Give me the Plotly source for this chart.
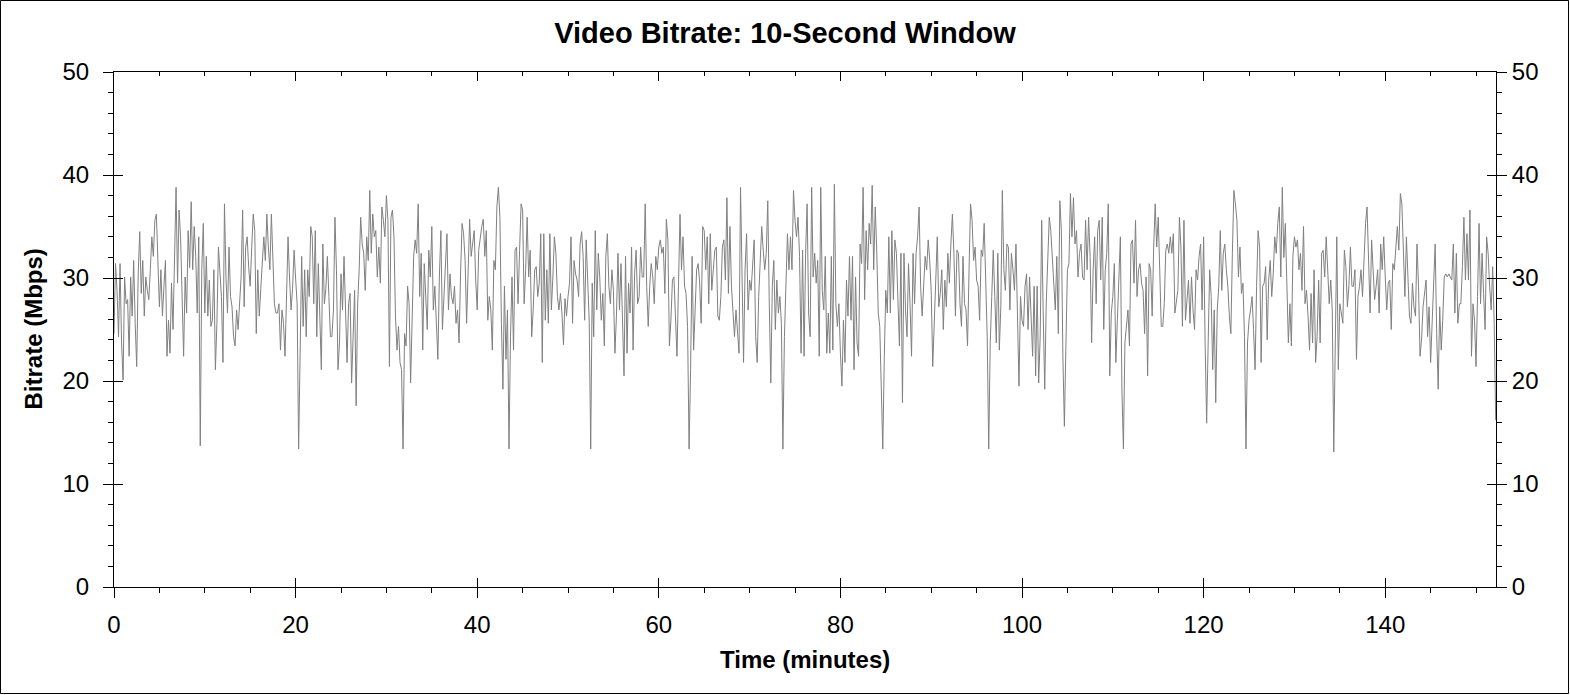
import plotly.graph_objects as go

# 10-second window bitrate (Mbps), one reading every 10 s
sample_step = 10 / 60  # minutes
bitrate = [
    24.6, 31.4, 28.8, 24.3, 31.4, 23.7,  20.1, 30.1, 27.5, 27.9, 22.4, 30.1,
    26.3, 31.7, 25.6, 21.4, 30.4, 34.5,  28.5, 31.7, 26.3, 30.1, 28.8, 27.9,
    30.8, 34.0, 32.1, 35.6, 36.2, 32.1,  27.2, 30.8, 26.3, 29.2, 31.7, 22.4,
    25.9, 22.7, 29.5, 25.0, 34.0, 38.8,  29.5, 36.6, 34.0, 26.9, 22.4, 30.1,
    26.6, 34.6, 31.0, 37.4, 30.8, 35.0,  32.1, 26.6, 34.0, 13.7, 30.8, 35.3,
    26.6, 32.1, 26.3, 29.8, 25.3, 25.9,  30.8, 21.1, 25.6, 33.0, 30.0, 28.2,
    21.8, 37.2, 30.0, 26.6, 33.0, 28.2,  27.2, 24.3, 23.4, 26.9, 25.0, 28.0,
    30.1, 36.6, 27.2, 33.0, 34.0, 31.0,  29.2, 33.0, 36.2, 34.6, 24.6, 30.8,
    26.3, 29.0, 31.5, 34.0, 31.7, 36.2,  33.0, 30.8, 36.2, 32.0, 27.5, 26.6,
    26.6, 27.5, 23.0, 26.9, 25.6, 22.4,  28.0, 34.0, 30.0, 26.9, 29.0, 32.7,
    30.0, 27.5, 13.4, 21.1, 32.1, 25.3,  30.8, 24.3, 30.8, 28.2, 35.0, 34.0,
    27.5, 34.6, 24.3, 31.4, 25.0, 21.1,  33.3, 27.5, 29.0, 32.1, 28.2, 24.3,
    24.3, 26.9, 35.9, 30.8, 21.1, 23.7,  30.4, 26.9, 32.1, 25.9, 21.8, 27.5,
    28.5, 19.8, 25.0, 28.8, 17.6, 27.5,  30.8, 35.9, 33.3, 32.4, 28.8, 34.0,
    31.7, 38.5, 32.4, 36.2, 34.0, 34.6,  30.1, 33.0, 29.5, 36.9, 35.6, 34.0,
    38.0, 35.6, 21.4, 35.9, 36.6, 34.0,  26.3, 23.0, 25.3, 21.8, 21.1, 13.4,
    24.6, 23.4, 29.2, 27.5, 19.8, 26.6,  32.1, 33.7, 32.4, 37.2, 28.2, 32.4,
    23.0, 31.4, 27.9, 25.0, 32.7, 30.1,  35.0, 26.9, 29.2, 25.3, 22.1, 30.1,
    34.6, 25.0, 27.9, 32.1, 34.3, 26.9,  30.4, 28.2, 27.5, 29.2, 25.6, 26.9,
    23.7, 30.4, 35.3, 34.3, 31.7, 25.6,  30.1, 35.7, 32.1, 33.3, 34.6, 29.8,
    26.9, 32.7, 34.0, 35.0, 35.7, 32.1,  34.6, 25.9, 28.2, 26.9, 23.0, 31.7,
    30.8, 36.9, 38.8, 35.9, 25.6, 19.2,  29.2, 22.1, 26.9, 13.4, 24.3, 30.1,
    23.0, 32.7, 33.0, 27.5, 32.7, 37.2,  36.6, 27.5, 30.8, 35.9, 30.1, 32.7,
    24.3, 26.9, 30.8, 31.1, 28.2, 29.5,  34.3, 21.8, 34.3, 25.9, 30.8, 25.6,
    34.3, 26.9, 30.1, 34.0, 32.4, 28.2,  26.9, 28.5, 26.6, 23.5, 28.0, 26.3,
    28.2, 29.5, 34.0, 25.6, 31.7, 30.4,  29.8, 28.2, 33.3, 34.5, 32.1, 25.9,
    33.7, 29.2, 25.9, 13.4, 29.5, 24.3,  34.6, 26.9, 32.4, 30.0, 25.9, 28.5,
    23.4, 32.1, 34.3, 29.2, 27.5, 30.8,  28.8, 22.7, 26.3, 32.4, 26.9, 31.4,
    25.0, 20.5, 32.1, 22.7, 29.5, 26.6,  33.0, 23.0, 30.4, 32.7, 27.5, 28.2,
    33.0, 30.1, 30.1, 37.2, 29.2, 25.3,  29.2, 31.4, 30.1, 27.5, 32.1, 30.8,
    33.0, 33.7, 32.4, 33.0, 28.5, 35.7,  33.7, 23.4, 25.9, 29.8, 30.1, 25.9,
    22.4, 29.2, 36.2, 30.8, 34.0, 29.2,  28.5, 25.3, 13.4, 21.1, 32.1, 23.0,
    27.5, 30.8, 31.4, 29.5, 25.6, 35.0,  34.6, 30.8, 34.0, 27.5, 34.3, 28.8,
    30.8, 32.7, 33.0, 26.3, 25.9, 28.2,  33.0, 33.7, 29.8, 37.8, 28.5, 35.0,
    29.2, 26.6, 24.3, 26.9, 24.3, 22.7,  38.8, 30.1, 21.8, 30.8, 34.3, 26.9,
    29.8, 28.8, 31.7, 33.7, 24.3, 21.8,  28.2, 31.7, 35.0, 32.7, 30.8, 32.4,
    37.5, 27.5, 19.8, 29.2, 31.7, 25.0,  29.8, 26.6, 28.2, 25.6, 13.4, 24.3,
    30.1, 34.3, 30.8, 34.0, 30.8, 38.5,  35.6, 34.0, 35.9, 32.1, 22.7, 32.7,
    22.4, 32.4, 37.2, 26.6, 24.3, 38.8,  30.1, 32.4, 29.5, 31.7, 22.4, 38.8,
    28.8, 26.9, 32.1, 22.7, 26.6, 22.7,  32.1, 23.0, 39.1, 27.5, 25.3, 27.5,
    22.7, 19.5, 25.9, 21.8, 29.8, 26.3,  32.1, 25.9, 32.1, 21.1, 30.1, 23.7,
    22.4, 33.3, 31.4, 38.8, 27.9, 34.6,  30.8, 35.3, 33.3, 39.0, 30.8, 36.9,
    32.7, 26.6, 25.3, 17.9, 13.4, 22.4,  28.8, 26.6, 34.0, 26.6, 34.6, 27.9,
    33.7, 32.4, 26.6, 23.4, 32.4, 17.9,  32.4, 26.9, 24.3, 31.4, 27.5, 22.4,
    32.4, 27.5, 32.4, 34.0, 36.9, 29.2,  26.3, 29.8, 32.1, 30.8, 33.7, 31.7,
    28.8, 21.4, 25.0, 29.2, 34.0, 27.2,  28.5, 30.8, 25.0, 29.8, 27.2, 32.4,
    29.5, 33.3, 36.2, 32.4, 26.3, 32.7,  32.4, 27.5, 25.3, 32.1, 27.5, 26.9,
    23.4, 30.8, 37.2, 35.6, 31.7, 33.0,  29.8, 29.2, 25.9, 32.7, 32.1, 35.3,
    29.2, 24.3, 13.4, 23.7, 28.2, 32.7,  28.2, 23.7, 32.4, 23.0, 27.2, 38.5,
    30.8, 28.8, 33.3, 33.0, 26.9, 32.4,  30.8, 28.8, 33.3, 25.6, 19.5, 28.2,
    25.9, 25.3, 29.2, 30.4, 25.0, 30.1,  26.9, 22.4, 29.2, 20.5, 29.2, 19.8,
    24.3, 35.6, 26.6, 19.2, 27.5, 32.4,  35.9, 34.6, 31.7, 29.5, 26.9, 32.1,
    24.6, 37.5, 34.6, 22.4, 15.6, 23.4,  30.8, 31.4, 38.2, 34.0, 37.8, 33.3,
    34.6, 30.1, 32.4, 33.3, 30.1, 29.8,  35.6, 30.8, 35.9, 32.1, 23.7, 30.8,
    34.0, 27.5, 34.6, 35.6, 29.8, 35.9,  25.0, 30.8, 32.4, 37.2, 20.5, 26.6,
    28.2, 31.4, 21.8, 25.9, 30.8, 34.0,  19.2, 13.4, 23.7, 25.3, 26.9, 23.4,
    33.3, 33.7, 29.5, 35.6, 28.2, 30.8,  31.4, 29.5, 28.8, 24.6, 30.1, 20.5,
    31.4, 30.8, 26.3, 33.0, 37.2, 33.0,  35.9, 30.8, 25.3, 25.3, 27.5, 32.7,
    33.3, 32.4, 34.0, 32.4, 34.3, 26.6,  27.5, 28.8, 35.9, 33.0, 25.3, 35.6,
    25.9, 28.2, 29.8, 25.6, 30.1, 26.9,  25.0, 30.8, 29.8, 32.1, 33.3, 26.9,
    34.0, 23.7, 15.9, 23.7, 30.8, 28.2,  21.1, 26.9, 17.9, 26.9, 29.2, 34.6,
    28.8, 32.4, 33.3, 30.8, 29.2, 26.3,  24.6, 32.4, 38.5, 37.2, 35.6, 30.1,
    33.0, 28.5, 29.5, 24.3, 13.4, 23.7,  25.9, 26.9, 28.2, 25.0, 21.1, 29.2,
    34.6, 33.0, 21.8, 29.2, 29.5, 31.1,  24.0, 29.8, 31.7, 28.2, 30.4, 34.0,
    32.4, 35.3, 36.9, 30.1, 38.8, 32.0,  35.3, 29.5, 23.7, 27.5, 23.4, 32.1,
    34.0, 33.0, 33.7, 30.8, 32.4, 28.8,  35.0, 27.5, 28.8, 26.3, 23.0, 28.5,
    23.7, 30.8, 21.8, 24.3, 29.8, 23.7,  32.4, 32.7, 30.1, 34.0, 30.8, 27.5,
    29.8, 26.9, 13.1, 24.3, 34.0, 21.1,  27.5, 26.6, 25.6, 32.7, 31.1, 27.2,
    29.2, 33.0, 29.2, 29.2, 30.8, 22.1,  28.2, 29.2, 30.8, 28.2, 31.7, 35.3,
    36.9, 32.4, 26.6, 33.7, 30.8, 27.9,  29.2, 30.8, 26.6, 33.3, 30.8, 34.0,
    30.1, 26.9, 29.5, 29.8, 25.0, 31.4,  30.8, 33.0, 35.0, 32.7, 38.2, 37.2,
    32.4, 28.2, 34.0, 30.8, 26.3, 25.6,  29.5, 27.2, 26.3, 33.3, 29.2, 22.4,
    24.0, 27.2, 28.5, 29.8, 24.3, 27.2,  21.8, 25.3, 28.2, 33.3, 24.6, 19.2,
    27.2, 23.0, 25.9, 30.1, 30.4, 30.1,  30.4, 30.1, 29.8, 33.3, 26.6, 32.4,
    25.6, 27.5, 27.5, 31.1, 35.9, 29.8,  34.3, 29.8, 36.6, 22.4, 27.5, 25.9,
    21.4, 28.2, 35.3, 27.5, 32.4, 28.5,  25.0, 34.0, 32.4, 29.2, 26.9, 31.1,
    25.6, 16.2,
]

x_range = [0, 152.2]
y_range = [0, 50]
x_ticks = [0, 20, 40, 60, 80, 100, 120, 140]
y_ticks = [0, 10, 20, 30, 40, 50]

font = "Arial, Liberation Sans, sans-serif"
tick_font = dict(family=font, size=24, color="black")

fig = go.Figure()
fig.add_trace(go.Scatter(
    y=bitrate, x0=0, dx=sample_step, mode="lines",
    line=dict(color="#808080", width=1), showlegend=False, hoverinfo="skip",
))
# empty traces so the overlay axes (inner halves of the crossing ticks, right labels) get drawn
fig.add_trace(go.Scatter(x=[None], y=[None], xaxis="x2", yaxis="y2", showlegend=False))
fig.add_trace(go.Scatter(x=[None], y=[None], xaxis="x3", yaxis="y3", showlegend=False))

fig.update_layout(
    width=1570, height=695,
    margin=dict(l=114, r=74, t=72, b=108),
    paper_bgcolor="white", plot_bgcolor="white",
    title=dict(text="<b>Video Bitrate: 10-Second Window</b>", x=0.5, xref="container",
               xanchor="center", y=1 - 33 / 695, yanchor="middle",
               font=dict(family=font, size=29, color="black")),
    xaxis=dict(range=x_range, tickvals=x_ticks, ticks="outside", ticklen=10, tickwidth=1,
               tickcolor="black", showline=True, linecolor="black", linewidth=1, mirror=True,
               showgrid=False, zeroline=False, tickfont=tick_font, ticklabelstandoff=6,
               minor=dict(dtick=5, ticks="outside", ticklen=5, tickcolor="black", showgrid=False)),
    xaxis2=dict(range=x_range, overlaying="x", side="top", tickvals=x_ticks, ticks="inside",
                ticklen=9, tickcolor="black", showticklabels=False, showgrid=False, zeroline=False,
                minor=dict(dtick=5, ticks="inside", ticklen=4, tickcolor="black", showgrid=False)),
    xaxis3=dict(range=x_range, overlaying="x", side="bottom", tickvals=x_ticks, ticks="inside",
                ticklen=9, tickcolor="black", showticklabels=False, showgrid=False, zeroline=False),
    yaxis=dict(range=y_range, tickvals=y_ticks, ticks="outside", ticklen=10, tickwidth=1,
               tickcolor="black", showline=True, linecolor="black", linewidth=1, mirror=True,
               showgrid=False, zeroline=False, tickfont=tick_font, ticklabelstandoff=9,
               minor=dict(dtick=2, ticks="outside", ticklen=5, tickcolor="black", showgrid=False)),
    yaxis2=dict(range=y_range, overlaying="y", side="right", tickvals=y_ticks, ticks="outside",
                ticklen=10, tickcolor="black", showgrid=False, zeroline=False, tickfont=tick_font,
                minor=dict(dtick=2, ticks="outside", ticklen=5, tickcolor="black", showgrid=False)),
    yaxis3=dict(range=y_range, overlaying="y", side="left", tickvals=y_ticks, ticks="inside",
                ticklen=9, tickcolor="black", mirror="ticks", showticklabels=False,
                showgrid=False, zeroline=False),
    annotations=[
        dict(text="<b>Time (minutes)</b>", xref="paper", yref="paper", x=0.5, y=(587 - 659) / 515,
             xanchor="center", yanchor="middle", showarrow=False,
             font=dict(family=font, size=24, color="black")),
        dict(text="<b>Bitrate (Mbps)</b>", xref="paper", yref="paper", x=(33 - 114) / 1382, y=0.5,
             textangle=-90, xanchor="center", yanchor="middle", showarrow=False,
             font=dict(family=font, size=24, color="black")),
    ],
    shapes=[
        dict(type="rect", xref="paper", yref="paper",
             x0=(0.5 - 114) / 1382, x1=(1568.5 - 114) / 1382,
             y0=(587 - 693.5) / 515, y1=(587 - 0.5) / 515,
             line=dict(color="black", width=1), fillcolor="rgba(0,0,0,0)", layer="below"),
    ],
)

# drop the page's default body margin so the figure sits at the window's top-left corner
fig.write_html("out.html", config={"displayModeBar": False},
               post_script="document.body.style.margin='0';")
